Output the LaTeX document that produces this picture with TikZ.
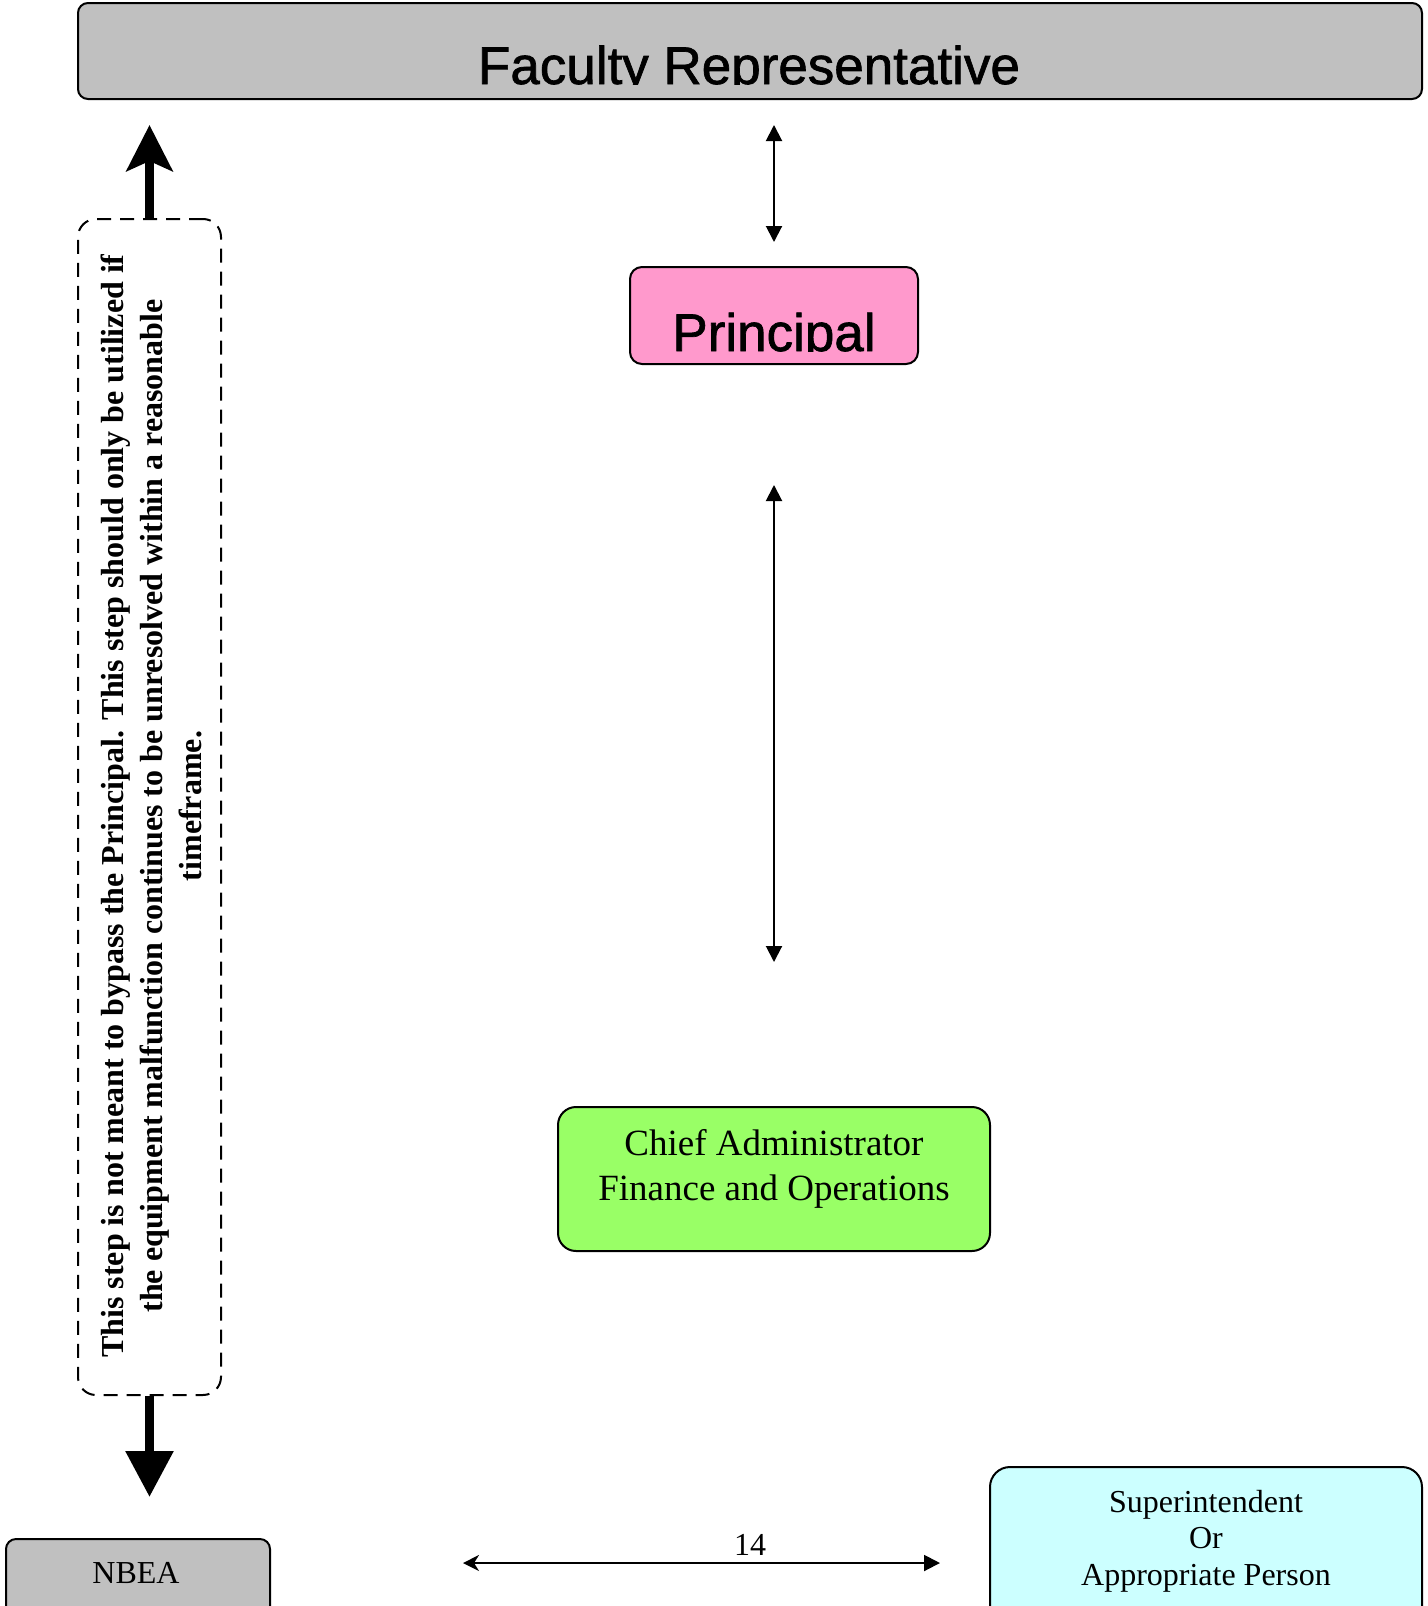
\documentclass[tikz,border=0pt]{standalone}
\usepackage{fontspec}
\setmainfont{Liberation Serif}
\newfontfamily\arialfont[FakeBold=1.3]{Liberation Sans}
\usetikzlibrary{arrows.meta}
\definecolor{boxgray}{HTML}{C0C0C0}
\definecolor{pinkfill}{HTML}{FF99CC}
\definecolor{greenfill}{HTML}{99FF66}
\definecolor{cyanfill}{HTML}{CCFFFF}
\tikzset{
  box/.style={draw, line width=2pt, rounded corners=#1, inner sep=0pt},
  box/.default=12pt,
  thin arrow/.style={line width=2pt,
    {Triangle[length=16pt,width=16pt]}-{Triangle[length=16pt,width=16pt]}},
  fat arrow/.style={line width=9pt, -{Triangle[length=46pt,width=46pt]}},
  fat arrow up/.style={line width=9pt, -{Stealth[length=46pt,width=46pt,inset=10pt]}},
  plain text/.style={inner sep=0pt, font=\fontsize{32}{36.5}\selectfont},
}

\begin{document}
\begin{tikzpicture}[x=1pt,y=-1pt]
    \clip (0,0) rectangle (1427,1606);
    % boxes
    \node[box=10pt, fill=boxgray, minimum width=1344pt, minimum height=96pt] (fac) at (750,51) {};
    \node[box=12pt, fill=pinkfill, minimum width=288pt, minimum height=97pt] (prin) at (774,315.5) {};
    \node[box=18pt, fill=greenfill, minimum width=432pt, minimum height=144pt] (chief) at (774,1179) {};
    \node[box=10pt, fill=boxgray, minimum width=264pt, minimum height=100pt] (nbea) at (138,1589) {};
    \node[box=20pt, fill=cyanfill, minimum width=432pt, minimum height=160pt] (sup) at (1206,1547) {};
    \node[box=18pt, dash pattern=on 14pt off 9pt, minimum width=143pt, minimum height=1176pt] (note) at (149.5,807) {};
    % texts
    \begin{scope}
        \clip (fac.north west) rectangle (1422,84);
        \node[anchor=base, inner sep=0pt, font=\arialfont\fontsize{53}{60}\selectfont] (factxt) at (749,84) {Faculty Representative};
    \end{scope}
    \begin{scope}
        \clip (prin.north west) rectangle (918,351);
        \node[anchor=base, inner sep=0pt, font=\arialfont\fontsize{53}{60}\selectfont] (printxt) at (774,351) {Principal};
    \end{scope}
    \node[anchor=north, align=center, inner sep=0pt, font=\fontsize{37}{45}\selectfont] (chieftxt) at (774,1129) {Chief Administrator\\Finance and Operations};
    \node[plain text, anchor=north, align=center] (suptxt) at (1206,1490) {Superintendent\\Or\\Appropriate Person};
    \node[plain text, anchor=base] (nbeatxt) at (136,1583) {NBEA};
    \node[plain text, anchor=base] (num) at (750,1555) {14};
    \node[rotate=90, align=center, inner sep=0pt, font=\bfseries\fontsize{32}{39}\selectfont] (notetxt) at (151,806)
        {This step is not meant to bypass the Principal. This step should only be utilized if\\
         the equipment malfunction continues to be unresolved within a reasonable\\
         timeframe.};
    % connectors
    \draw[thin arrow, shorten <=25pt, shorten >=24pt] (fac.south -| prin.north) -- (prin.north);
    \draw[thin arrow, shorten <=120pt, shorten >=144pt] (prin.south) -- (chief.north);
    \draw[fat arrow up, shorten >=25pt] (note.north) -- (note.north |- fac.south);
    \draw[fat arrow, shorten >=41pt] (note.south) -- (note.south |- nbea.north);
    \coordinate (lend) at (463,1563);
    \coordinate (rend) at (940,1563);
    \draw[line width=2pt, {Stealth[length=16pt,width=16pt,inset=5pt]}-{Triangle[length=16pt,width=16pt]}] (lend) -- (rend);
\end{tikzpicture}
\end{document}
